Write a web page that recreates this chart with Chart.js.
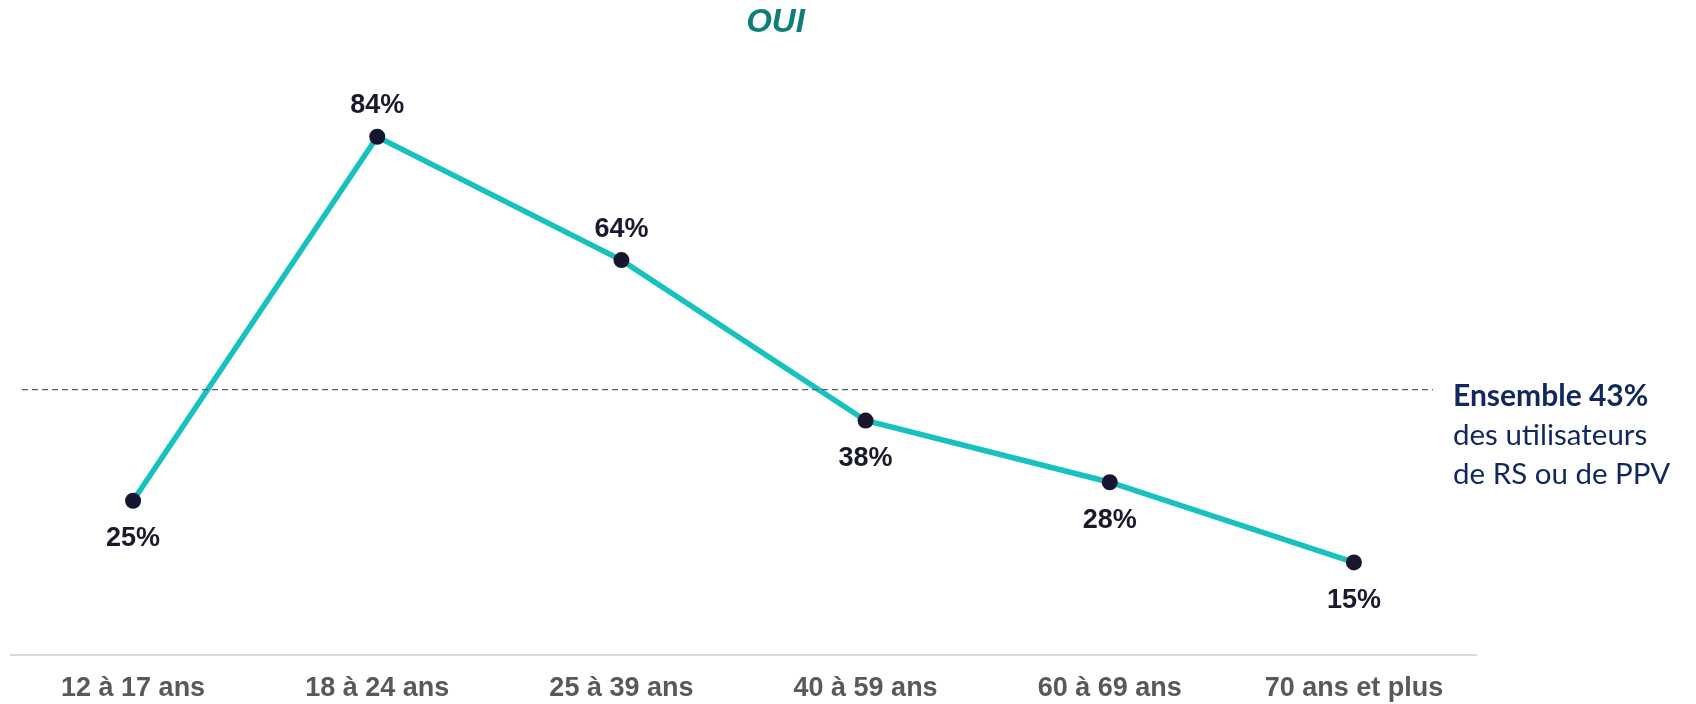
<!DOCTYPE html>
<html>
<head>
<meta charset="utf-8">
<script src="https://cdn.jsdelivr.net/npm/chart.js@4"></script>
<style>
  html, body { margin: 0; padding: 0; background: #fff; }
  #wrap { width: 1696px; height: 704px; position: relative; }
</style>
</head>
<body>
<div id="wrap"><canvas id="chart"></canvas></div>
<script>
// Data
const categories = ["12 à 17 ans", "18 à 24 ans", "25 à 39 ans", "40 à 59 ans", "60 à 69 ans", "70 ans et plus"];
const ouiValues = [25, 84, 64, 38, 28, 15];
const ensembleValue = 43;
const titleText = "OUI";
const ensembleLines = ["Ensemble 43%", "des utilisateurs", "de RS ou de PPV"];

// which side of the point each value label goes
const labelAbove = [false, true, true, false, false, false];

const extras = {
  id: "extras",
  afterDatasetsDraw(chart) {
    const { ctx, chartArea, scales } = chart;
    const y43 = scales.y.getPixelForValue(ensembleValue);
    ctx.save();

    // dashed reference line
    ctx.strokeStyle = "#5c5c70";
    ctx.lineWidth = 1.2;
    ctx.setLineDash([6, 4]);
    ctx.beginPath();
    ctx.moveTo(chartArea.left + 11, y43);
    ctx.lineTo(chartArea.right - 43, y43);
    ctx.stroke();
    ctx.setLineDash([]);

    // value labels
    const meta = chart.getDatasetMeta(0);
    ctx.fillStyle = "#1a1a2e";
    ctx.font = "bold 27px 'Liberation Sans', Arial, sans-serif";
    ctx.textAlign = "center";
    ctx.textBaseline = "middle";
    meta.data.forEach((pt, i) => {
      const dy = labelAbove[i] ? -31 : 38;
      ctx.fillText(ouiValues[i] + "%", pt.x, pt.y + dy);
    });

    // title
    ctx.fillStyle = "#0e7f78";
    ctx.font = "italic bold 33px 'Liberation Sans', Arial, sans-serif";
    ctx.fillText(titleText, (chartArea.left + chartArea.right) / 2 + 32, 23);

    // right annotation
    ctx.textAlign = "left";
    ctx.textBaseline = "alphabetic";
    ctx.fillStyle = "#10275f";
    const ax = chartArea.right - 23;
    ctx.font = "bold 30px Lato, 'Open Sans', sans-serif";
    ctx.fillText(ensembleLines[0], ax, y43 + 16);
    ctx.font = "29.5px Lato, 'Open Sans', sans-serif";
    ctx.fillText(ensembleLines[1], ax, y43 + 55);
    ctx.fillText(ensembleLines[2], ax, y43 + 94);
    ctx.restore();
  }
};

new Chart(document.getElementById("chart"), {
  type: "line",
  data: {
    labels: categories,
    datasets: [{
      data: ouiValues,
      borderColor: "#17c1bd",
      borderWidth: 5.5,
      tension: 0,
      pointRadius: 8,
      pointHoverRadius: 8,
      pointBackgroundColor: "#161630",
      pointBorderColor: "#161630",
      pointBorderWidth: 0,
      clip: false
    }]
  },
  options: {
    responsive: true,
    maintainAspectRatio: false,
    animation: false,
    layout: { padding: { left: 11, right: 220, top: 38, bottom: 0 } },
    plugins: {
      legend: { display: false },
      tooltip: { enabled: false }
    },
    scales: {
      x: {
        offset: true,
        grid: { display: false, drawTicks: false },
        border: { display: true, color: "#d9d9d9", width: 2 },
        ticks: {
          padding: 17,
          color: "#595959",
          font: { family: "'Liberation Sans', Arial, sans-serif", size: 27, weight: "bold" }
        },
        afterFit: (scale) => { scale.height = 49; }
      },
      y: {
        display: false,
        min: 0,
        max: 100
      }
    }
  },
  plugins: [extras]
});
</script>
</body>
</html>
